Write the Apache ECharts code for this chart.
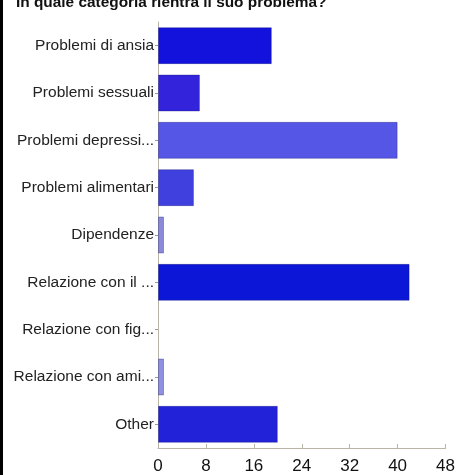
<!DOCTYPE html>
<html>
<head>
<meta charset="utf-8">
<script src="https://cdn.jsdelivr.net/npm/echarts@6/dist/echarts.min.js"></script>
<style>
  html, body { margin: 0; padding: 0; background: #fff; }
  #chart { width: 458px; height: 475px; }
</style>
</head>
<body>
<div id="chart"></div>
<script>
// Survey answers: "In quale categoria rientra il suo problema?"
const categories = [
  'Problemi di ansia',
  'Problemi sessuali',
  'Problemi depressi...',
  'Problemi alimentari',
  'Dipendenze',
  'Relazione con il ...',
  'Relazione con fig...',
  'Relazione con ami...',
  'Other'
];
const counts = [19, 7, 40, 6, 1, 42, 0, 1, 20];
const barColors = ['#1212dc', '#3324dc', '#5656e6', '#4040de', '#8a8ad8', '#0c16d6', '#9a9ae2', '#9090e0', '#2222d8'];
const xTicks = [0, 8, 16, 24, 32, 40, 48];

const chart = echarts.init(document.getElementById('chart'));

chart.setOption({
  backgroundColor: '#fff',
  animation: false,
  title: {
    text: 'In quale categoria rientra il suo problema?',
    left: 11,
    top: -10,
    textStyle: { fontFamily: 'Liberation Sans', fontWeight: 'bold', fontSize: 15.4, color: '#111' }
  },
  graphic: [
    { type: 'rect', left: 0, top: 0, shape: { width: 3, height: 475 }, style: { fill: '#000' } }
  ],
  grid: { left: 158, right: 12, top: 22, bottom: 27, containLabel: false },
  xAxis: {
    type: 'value',
    min: xTicks[0],
    max: xTicks[xTicks.length - 1],
    interval: 8,
    axisLine: { show: true, lineStyle: { color: '#b8b4a8', width: 1 } },
    axisTick: { show: true, inside: true, length: 4, lineStyle: { color: '#b8b4a8' } },
    splitLine: { show: false },
    axisLabel: { color: '#111', fontFamily: 'Liberation Sans', fontSize: 17, margin: 10 }
  },
  yAxis: {
    type: 'category',
    data: categories,
    inverse: true,
    axisLine: { show: true, lineStyle: { color: '#b8b4a8', width: 1 } },
    axisTick: { show: true, alignWithLabel: true, length: 3, lineStyle: { color: '#999' } },
    axisLabel: { color: '#222', fontFamily: 'Liberation Sans', fontSize: 15.5, margin: 4 }
  },
  series: [{
    type: 'bar',
    data: counts.map((v, i) => ({
      value: v,
      itemStyle: {
        color: barColors[i],
        borderColor: 'rgba(20,20,120,0.35)',
        borderWidth: v > 0 ? 1 : 0
      }
    })),
    barCategoryGap: '22%'
  }]
});
</script>
</body>
</html>
